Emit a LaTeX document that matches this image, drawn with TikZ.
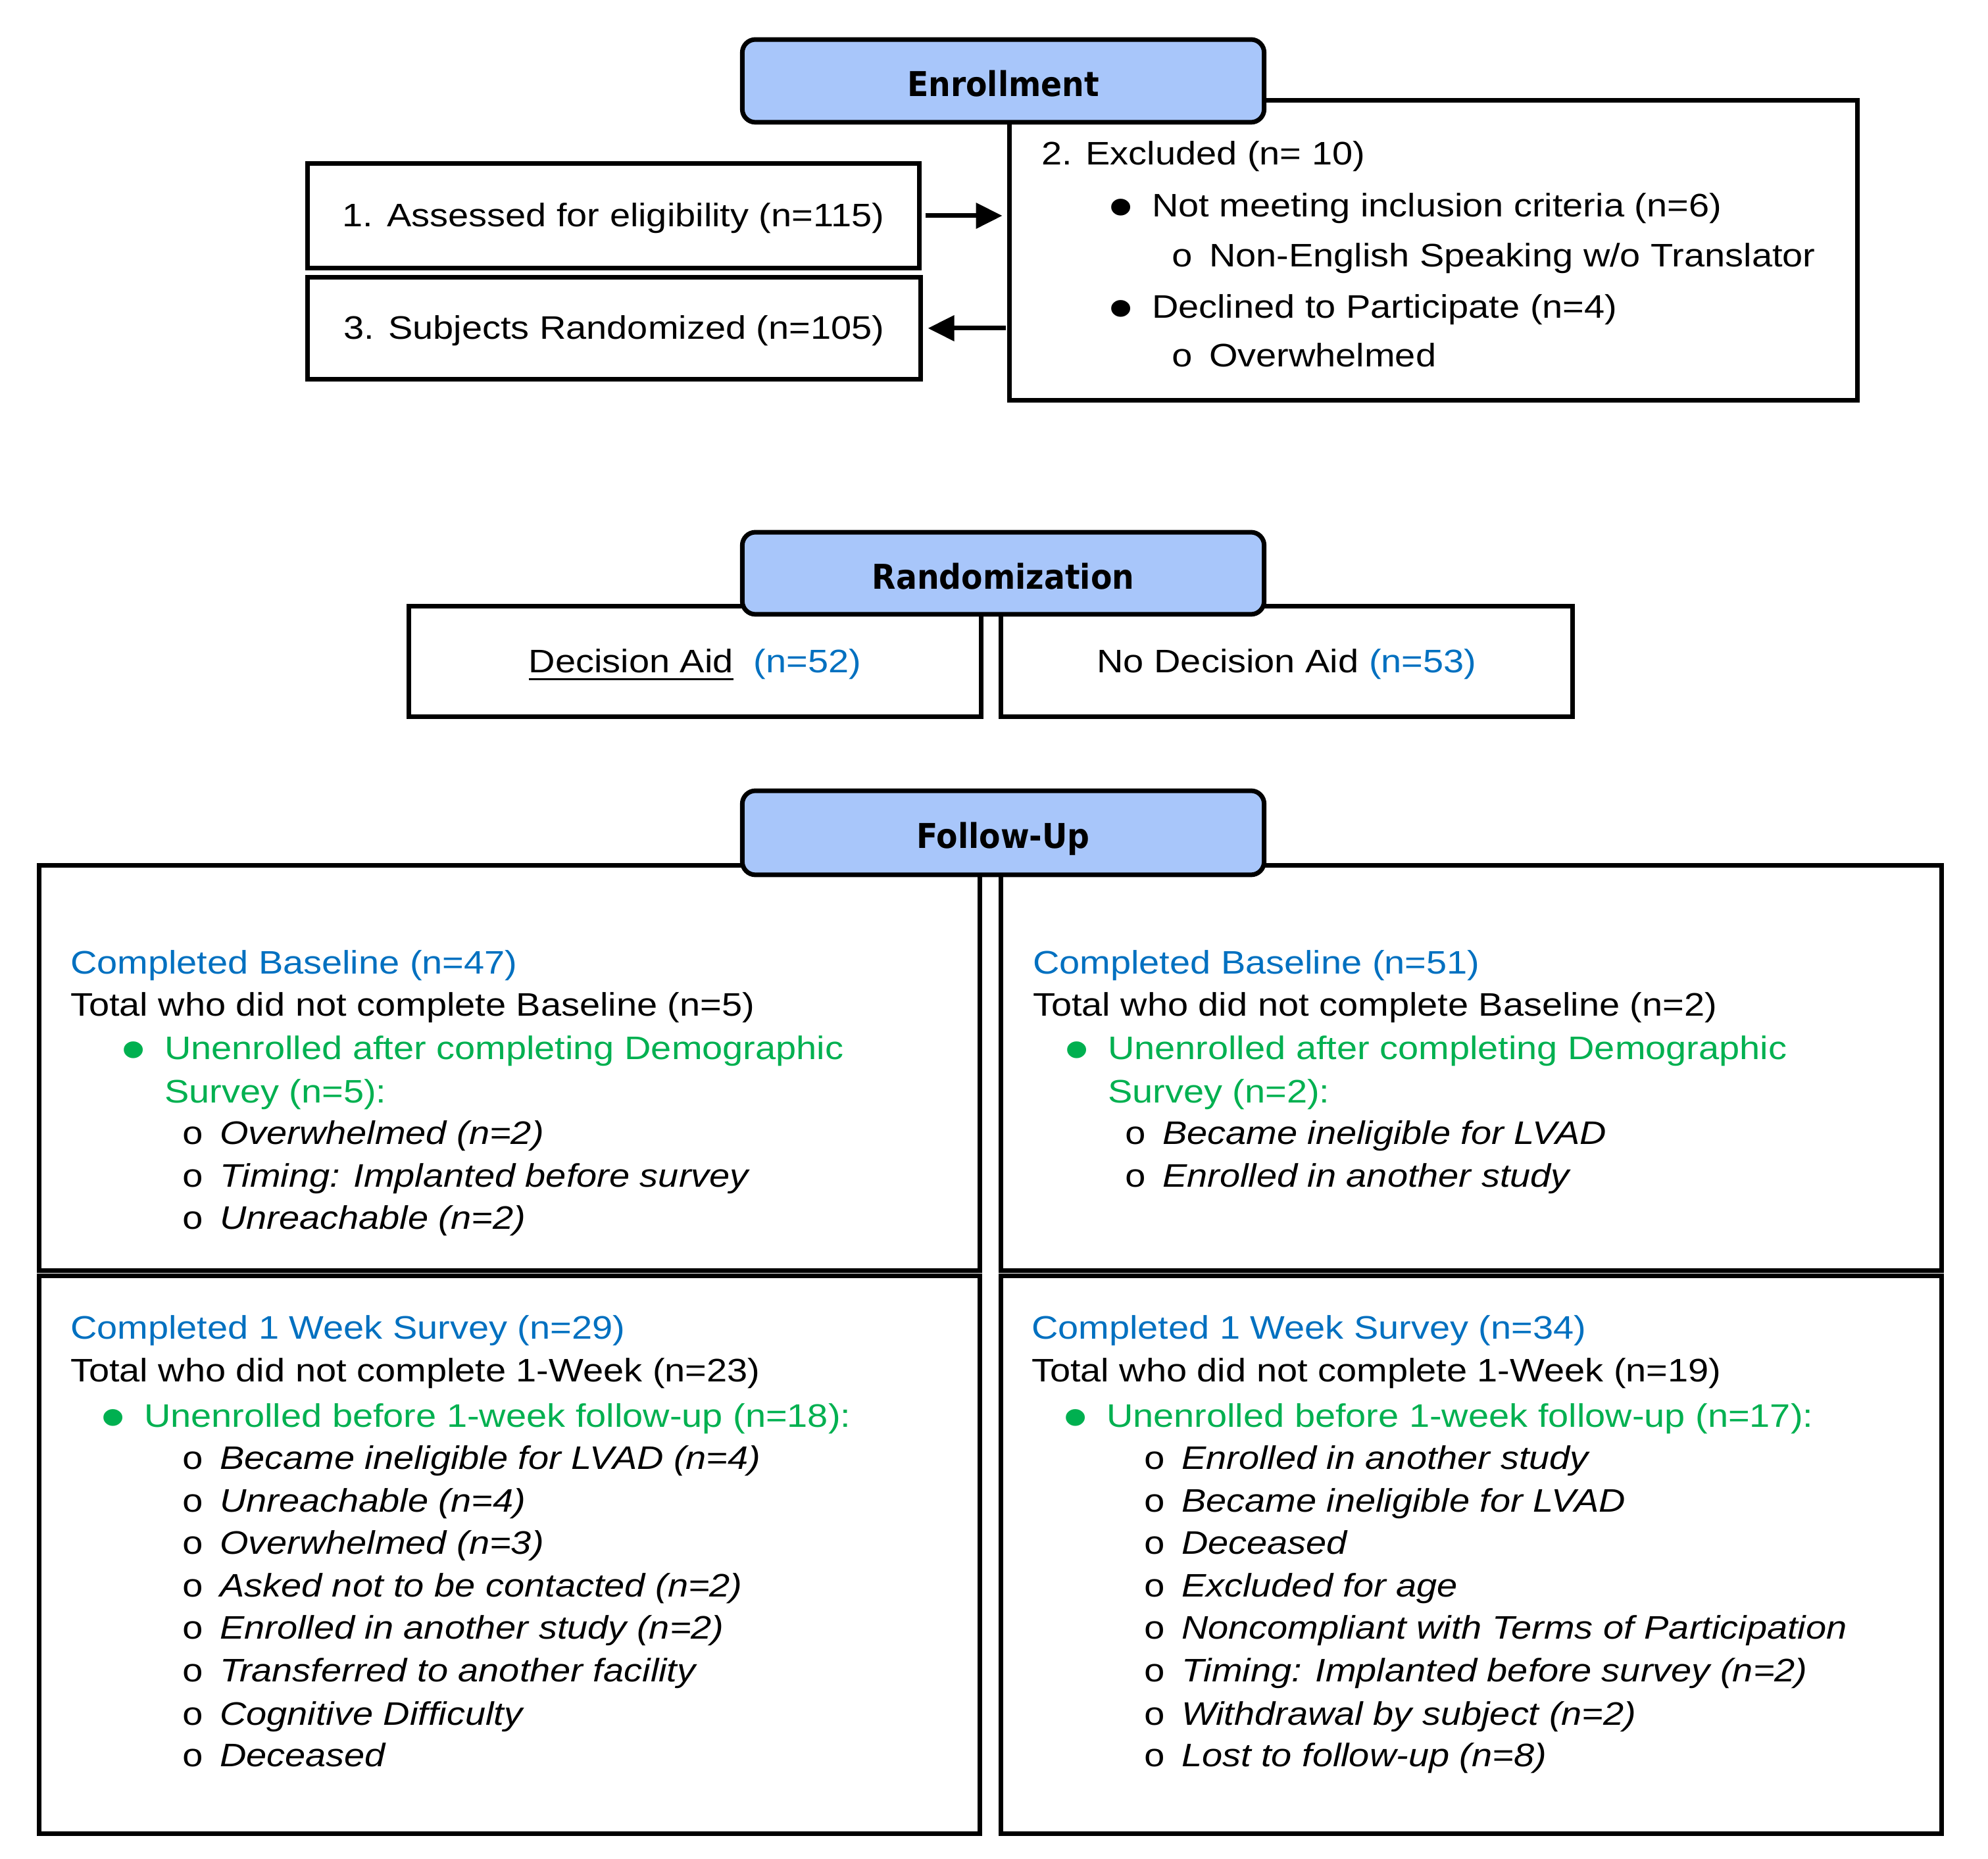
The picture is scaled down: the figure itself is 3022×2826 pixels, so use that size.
\documentclass[tikz,border=0pt]{standalone}
\usepackage{fontspec}
\setmainfont[FakeStretch=1.13]{Liberation Sans}
\newfontfamily\headfont[FakeStretch=0.91]{DejaVu Sans}
\newfontfamily\ringfont[FakeStretch=1.13]{Liberation Mono}
\usetikzlibrary{arrows.meta}

\definecolor{headblue}{RGB}{168,198,250}
\definecolor{nblue}{RGB}{0,112,192}
\definecolor{ngreen}{RGB}{0,176,80}

\newcommand{\bodysize}{\fontsize{7.05}{8.5}\selectfont}
\newcommand{\dotitem}{\llap{\raisebox{-2.3pt}{\scalebox{1.9}{•}}\hspace{0.14cm}}}
\newcommand{\ringitem}{\llap{{\upshape\ringfont o}\hspace{0.12cm}}}

\begin{document}
\begin{tikzpicture}[x=0.005cm, y=-0.005cm,
    box/.style={draw, line width=0.035cm, inner sep=0pt, outer sep=0pt,
      font=\bodysize, text height=0.2cm, text depth=0.03cm},
    headbox/.style={box, rounded corners=0.1cm, fill=headblue,
      minimum width=3.97cm, minimum height=0.63cm,
      font=\headfont\bfseries\fontsize{7.4}{8}\selectfont,
      text height=0.24cm, text depth=0pt},
    halfbox/.style={box, minimum width=7.155cm},
    txt/.style={anchor=base west, inner sep=0pt, outer sep=0pt, font=\bodysize},
    bluetxt/.style={txt, text=nblue},
    greentxt/.style={txt, text=ngreen},
    subtxt/.style={txt, font=\bodysize\itshape},
    arr/.style={line width=0.035cm, -{Triangle[length=0.2cm, width=0.19cm]}}]

    \useasboundingbox (0,0) rectangle (3022,2826);

    % enrollment
    \node[box, minimum width=6.45cm, minimum height=2.285cm] (excl) at (2179,380.5) {};
    \node[box, minimum width=4.655cm, minimum height=0.8cm] (assess) at (932.5,328) {1. Assessed for eligibility (n=115)};
    \node[box, minimum width=4.665cm, minimum height=0.78cm] (subjects) at (933.5,499) {3. Subjects Randomized (n=105)};
    \node[headbox] (enroll) at (1525,123) {Enrollment};

    \node[txt] (ex1) at (1583,251) {2. Excluded (n= 10)};
    \node[txt] (ex2) at (1751,330) {\dotitem Not meeting inclusion criteria (n=6)};
    \node[txt] (ex3) at (1838,406) {\ringitem Non-English Speaking w/o Translator};
    \node[txt] (ex4) at (1751,484) {\dotitem Declined to Participate (n=4)};
    \node[txt] (ex5) at (1838,558) {\ringitem Overwhelmed};

    \draw[arr, shorten <=0.045cm, shorten >=0.055cm] (assess.east) -- (assess.east -| excl.west);
    \draw[arr, shorten <=0.03cm, shorten >=0.055cm] (subjects.east -| excl.west) -- (subjects.east);

    % randomization
    \node[box, minimum width=4.355cm, minimum height=0.845cm] (aid) at (1056.5,1005.5) {\underline{Decision Aid}\ \ \textcolor{nblue}{(n=52)}};
    \node[box, minimum width=4.35cm, minimum height=0.845cm] (noaid) at (1956,1005.5) {No Decision Aid \textcolor{nblue}{(n=53)}};
    \node[headbox, minimum height=0.625cm] (random) at (1525,871.5) {Randomization};

    % follow-up
    \node[halfbox, minimum height=3.085cm] (aidBase) at (774.5,1623.5) {};
    \node[halfbox, minimum height=4.245cm] (aidWeek) at (774.5,2363.5) {};
    \node[halfbox, minimum height=3.085cm] (noaidBase) at (2236.5,1623.5) {};
    \node[halfbox, minimum height=4.245cm] (noaidWeek) at (2236.5,2363.5) {};
    \node[headbox, minimum height=0.64cm] (follow) at (1525,1266) {Follow-Up};

    % decision aid, baseline
    \node[bluetxt] (lt1) at (107,1481) {Completed Baseline (n=47)};
    \node[txt] (lt2) at (107,1545) {Total who did not complete Baseline (n=5)};
    \node[greentxt] (lt3) at (250,1611) {\dotitem Unenrolled after completing Demographic};
    \node[greentxt] (lt4) at (250,1677) {Survey (n=5):};
    \node[subtxt] (lt5) at (334,1740) {\ringitem Overwhelmed (n=2)};
    \node[subtxt] (lt6) at (334,1805) {\ringitem Timing: Implanted before survey};
    \node[subtxt] (lt7) at (334,1869) {\ringitem Unreachable (n=2)};

    % no decision aid, baseline
    \node[bluetxt] (rt1) at (1570,1481) {Completed Baseline (n=51)};
    \node[txt] (rt2) at (1570,1545) {Total who did not complete Baseline (n=2)};
    \node[greentxt] (rt3) at (1684,1611) {\dotitem Unenrolled after completing Demographic};
    \node[greentxt] (rt4) at (1684,1677) {Survey (n=2):};
    \node[subtxt] (rt5) at (1767,1740) {\ringitem Became ineligible for LVAD};
    \node[subtxt] (rt6) at (1767,1805) {\ringitem Enrolled in another study};

    % decision aid, 1 week
    \node[bluetxt] (lb1) at (107,2036) {Completed 1 Week Survey (n=29)};
    \node[txt] (lb2) at (107,2101) {Total who did not complete 1-Week (n=23)};
    \node[greentxt] (lb3) at (219,2170) {\dotitem Unenrolled before 1-week follow-up (n=18):};
    \node[subtxt] (lb4) at (334,2234) {\ringitem Became ineligible for LVAD (n=4)};
    \node[subtxt] (lb5) at (334,2299) {\ringitem Unreachable (n=4)};
    \node[subtxt] (lb6) at (334,2363) {\ringitem Overwhelmed (n=3)};
    \node[subtxt] (lb7) at (334,2428) {\ringitem Asked not to be contacted (n=2)};
    \node[subtxt] (lb8) at (334,2492) {\ringitem Enrolled in another study (n=2)};
    \node[subtxt] (lb9) at (334,2557) {\ringitem Transferred to another facility};
    \node[subtxt] (lb10) at (334,2622) {\ringitem Cognitive Difficulty};
    \node[subtxt] (lb11) at (334,2686) {\ringitem Deceased};

    % no decision aid, 1 week
    \node[bluetxt] (rb1) at (1568,2036) {Completed 1 Week Survey (n=34)};
    \node[txt] (rb2) at (1568,2101) {Total who did not complete 1-Week (n=19)};
    \node[greentxt] (rb3) at (1682,2170) {\dotitem Unenrolled before 1-week follow-up (n=17):};
    \node[subtxt] (rb4) at (1796,2234) {\ringitem Enrolled in another study};
    \node[subtxt] (rb5) at (1796,2299) {\ringitem Became ineligible for LVAD};
    \node[subtxt] (rb6) at (1796,2363) {\ringitem Deceased};
    \node[subtxt] (rb7) at (1796,2428) {\ringitem Excluded for age};
    \node[subtxt] (rb8) at (1796,2492) {\ringitem Noncompliant with Terms of Participation};
    \node[subtxt] (rb9) at (1796,2557) {\ringitem Timing: Implanted before survey (n=2)};
    \node[subtxt] (rb10) at (1796,2622) {\ringitem Withdrawal by subject (n=2)};
    \node[subtxt] (rb11) at (1796,2686) {\ringitem Lost to follow-up (n=8)};
\end{tikzpicture}
\end{document}
